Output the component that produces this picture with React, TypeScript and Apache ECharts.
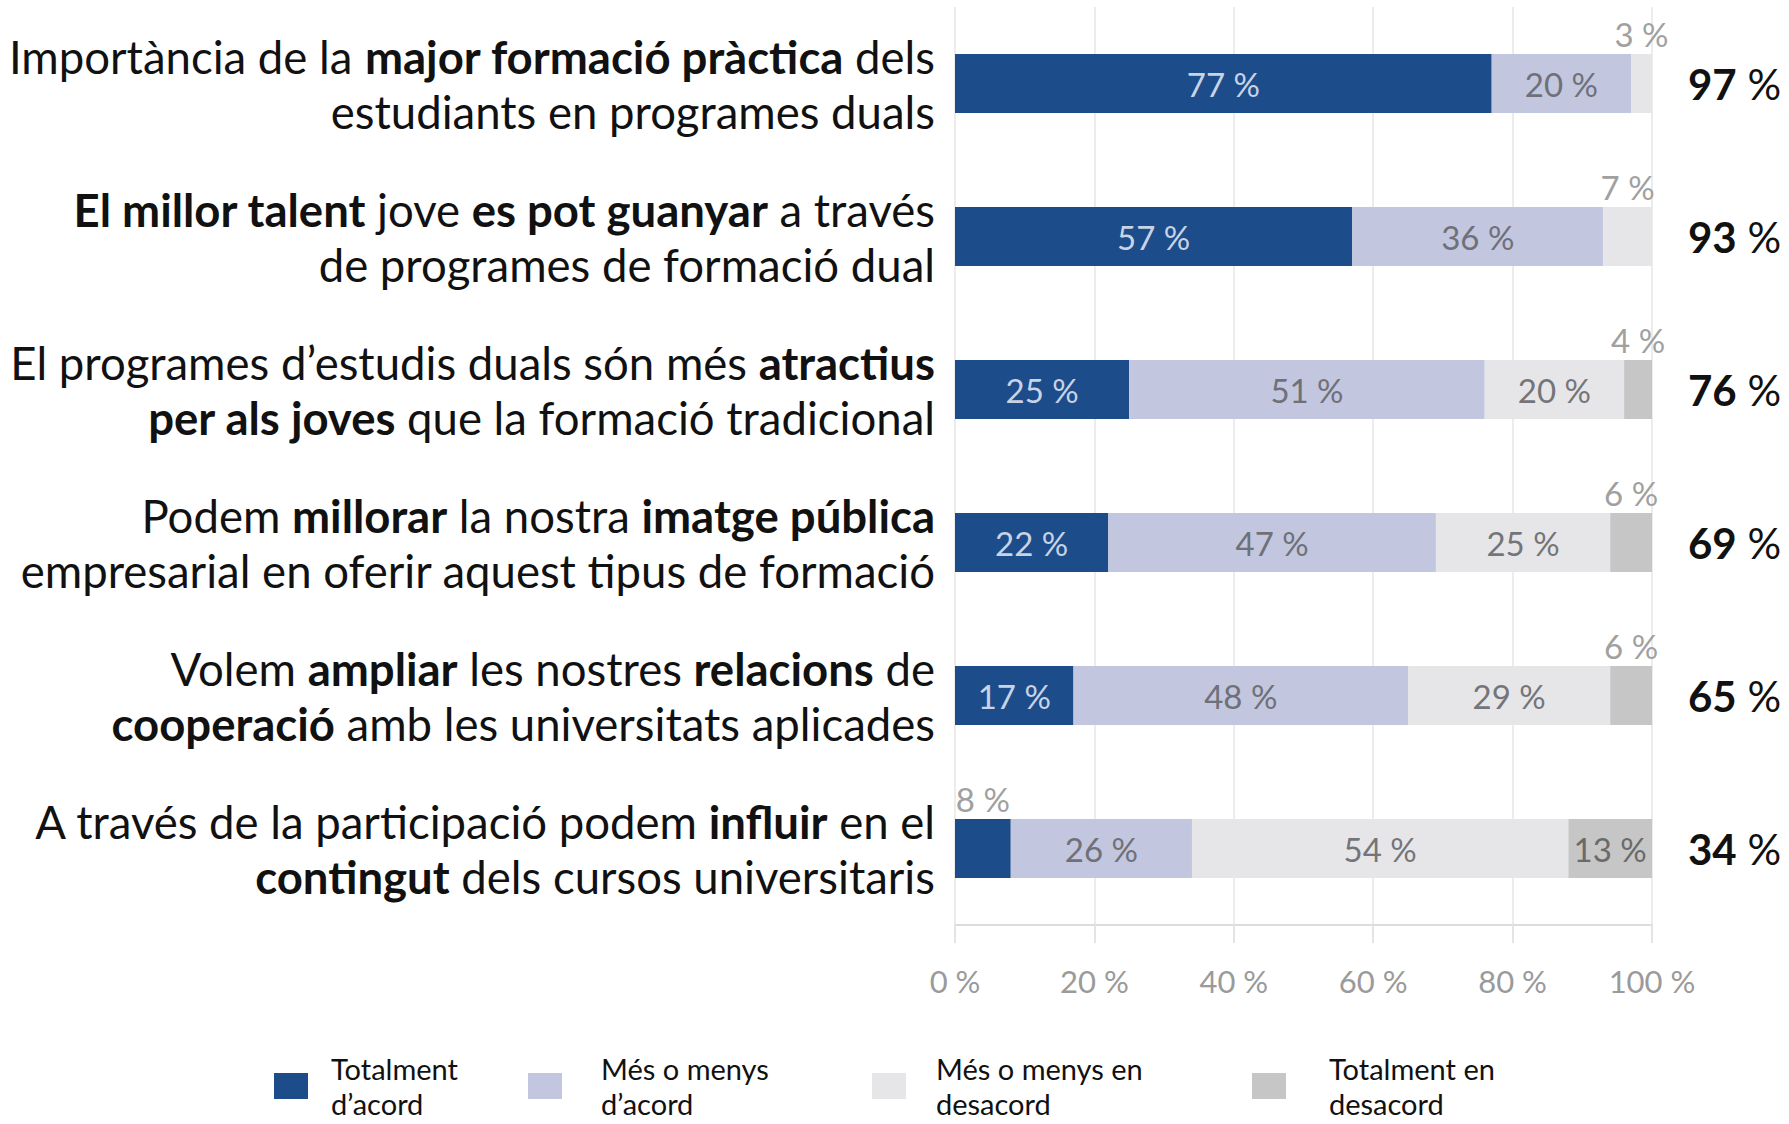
import React, { useEffect, useRef } from "react";
import * as echarts from "echarts";

// Statements (rows, top to bottom). **...** marks bold text.
const questions: string[] = [
  "Importància de la **major formació pràctica** dels\nestudiants en programes duals",
  "**El millor talent** jove **es pot guanyar** a través\nde programes de formació dual",
  "El programes d’estudis duals són més **atractius**\n**per als joves** que la formació tradicional",
  "Podem **millorar** la nostra **imatge pública**\nempresarial en oferir aquest tipus de formació",
  "Volem **ampliar** les nostres **relacions** de\n**cooperació** amb les universitats aplicades",
  "A través de la participació podem **influir** en el\n**contingut** dels cursos universitaris",
];

const seriesNames = [
  "Totalment d’acord",
  "Més o menys d’acord",
  "Més o menys en desacord",
  "Totalment en desacord",
];
const legendLines = [
  "Totalment\nd’acord",
  "Més o menys\nd’acord",
  "Més o menys en\ndesacord",
  "Totalment en\ndesacord",
];

const totalmentAcord = [77, 57, 25, 22, 17, 8];
const mesMenysAcord = [20, 36, 51, 47, 48, 26];
const mesMenysDesacord = [3, 7, 20, 25, 29, 54];
const totalmentDesacord = [0, 0, 4, 6, 6, 13];

const agreeTotals = [97, 93, 76, 69, 65, 34];

const xTicks = [0, 20, 40, 60, 80, 100];

const COLORS = ["#1c4d8a", "#c2c7df", "#e6e6e9", "#c6c6c6"];
const INSIDE_LABEL_COLORS = ["#c9d3e6", "#6f7078", "#74757a", "#6a6a6a"];
const FONT = "Lato, 'Open Sans', sans-serif";

function toRich(text: string): string {
  return text
    .split("\n")
    .map((line) =>
      line
        .split("**")
        .map((part, i) => (part ? `{${i % 2 === 1 ? "b" : "n"}|${part}}` : ""))
        .join("")
    )
    .join("\n");
}

export default function App() {
  const ref = useRef<HTMLDivElement>(null);

  useEffect(() => {
    if (!ref.current) return;
    const chart = echarts.init(ref.current, undefined, { renderer: "svg" });

    const allSeries = [totalmentAcord, mesMenysAcord, mesMenysDesacord, totalmentDesacord];

    const series = allSeries.map((vals, si) => ({
      name: seriesNames[si],
      type: "bar",
      stack: "total",
      barWidth: 59,
      itemStyle: { color: COLORS[si] },
      label: {
        show: true,
        position: "inside",
        fontFamily: FONT,
        fontSize: 33,
        color: INSIDE_LABEL_COLORS[si],
        formatter: (p: any) => (p.value ? `${p.value} %` : ""),
      },
      data: vals.map((v) =>
        v > 0 && v <= 8
          ? { value: v, label: { position: "top", distance: 4, color: "#a0a0a0" } }
          : { value: v }
      ),
    }));

    const legends = seriesNames.map((name, i) => {
      const lefts = [274, 528, 872, 1252];
      const pads = [18, 34, 25, 38];
      return {
        show: true,
        data: [name],
        left: lefts[i],
        top: 1051,
        padding: 0,
        itemWidth: 34,
        itemHeight: 26,
        icon: "rect",
        selectedMode: false,
        formatter: () => legendLines[i],
        textStyle: {
          fontFamily: FONT,
          fontSize: 29,
          lineHeight: 35,
          color: "#111",
          padding: [0, 0, 0, pads[i]],
        },
      };
    });

    const labelRich = {
      n: { fontFamily: FONT, fontSize: 45.5, fontWeight: "normal", color: "#111", lineHeight: 55, align: "right" },
      b: { fontFamily: FONT, fontSize: 45.5, fontWeight: "bold", color: "#111", lineHeight: 55, align: "right" },
    };

    chart.setOption({
      animation: false,
      backgroundColor: "#ffffff",
      legend: legends,
      grid: {
        left: 955,
        right: 137,
        top: 7,
        bottom: 199,
        containLabel: false,
        outerBoundsMode: "none",
      },
      xAxis: {
        type: "value",
        min: 0,
        max: 100,
        interval: 20,
        axisLine: { show: true, lineStyle: { color: "#dcdcdc", width: 2 } },
        axisTick: { show: true, length: 18, lineStyle: { color: "#e4e4e4", width: 2 } },
        splitLine: { show: true, lineStyle: { color: "#ececec", width: 2 } },
        axisLabel: {
          margin: 40,
          fontFamily: FONT,
          fontSize: 31,
          color: "#9a9a9a",
          formatter: (v: number) => (xTicks.includes(v) ? `${v} %` : ""),
        },
      },
      yAxis: [
        {
          type: "category",
          inverse: true,
          data: questions,
          axisLine: { show: false },
          axisTick: { show: false },
          axisLabel: {
            interval: 0,
            margin: 20,
            formatter: (v: string) => toRich(v),
            rich: labelRich,
          },
        },
        {
          type: "category",
          inverse: true,
          position: "right",
          data: questions,
          axisLine: { show: false },
          axisTick: { show: false },
          axisLabel: {
            interval: 0,
            margin: 36,
            align: "left",
            formatter: (_v: string, idx: number) => `{b|${agreeTotals[idx]}}{n| %}`,
            rich: {
              b: { fontFamily: FONT, fontSize: 42, fontWeight: "bold", color: "#111" },
              n: { fontFamily: FONT, fontSize: 42, fontWeight: "normal", color: "#111" },
            },
          },
        },
      ],
      series,
    });

    return () => chart.dispose();
  }, []);

  return (
    <div
      ref={ref}
      style={{ position: "fixed", left: 0, top: 0, width: 1789, height: 1124, background: "#fff" }}
    />
  );
}
